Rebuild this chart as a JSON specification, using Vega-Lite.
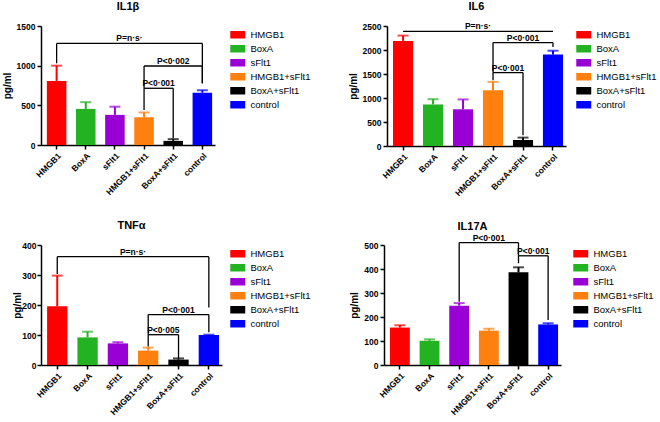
{
  "$schema": "https://vega.github.io/schema/vega-lite/v6.json",
  "padding": {"left": 2, "top": 1, "right": 0, "bottom": 0},
  "datasets": {
    "bars": [
      {"panel": "IL1β", "group": "HMGB1", "mean": 808, "err": 1000},
      {"panel": "IL1β", "group": "BoxA", "mean": 455, "err": 540},
      {"panel": "IL1β", "group": "sFlt1", "mean": 380, "err": 483},
      {"panel": "IL1β", "group": "HMGB1+sFlt1", "mean": 349, "err": 410},
      {"panel": "IL1β", "group": "BoxA+sFlt1", "mean": 52, "err": 74},
      {"panel": "IL1β", "group": "control", "mean": 660, "err": 690},
      {"panel": "IL6", "group": "HMGB1", "mean": 2190, "err": 2300},
      {"panel": "IL6", "group": "BoxA", "mean": 865, "err": 975},
      {"panel": "IL6", "group": "sFlt1", "mean": 765, "err": 970},
      {"panel": "IL6", "group": "HMGB1+sFlt1", "mean": 1160, "err": 1335},
      {"panel": "IL6", "group": "BoxA+sFlt1", "mean": 125, "err": 175},
      {"panel": "IL6", "group": "control", "mean": 1905, "err": 1985},
      {"panel": "TNFα", "group": "HMGB1", "mean": 196, "err": 298},
      {"panel": "TNFα", "group": "BoxA", "mean": 92, "err": 111},
      {"panel": "TNFα", "group": "sFlt1", "mean": 72, "err": 76},
      {"panel": "TNFα", "group": "HMGB1+sFlt1", "mean": 48, "err": 58},
      {"panel": "TNFα", "group": "BoxA+sFlt1", "mean": 18, "err": 22},
      {"panel": "TNFα", "group": "control", "mean": 100, "err": 101},
      {"panel": "IL17A", "group": "HMGB1", "mean": 156, "err": 166},
      {"panel": "IL17A", "group": "BoxA", "mean": 101, "err": 107},
      {"panel": "IL17A", "group": "sFlt1", "mean": 247, "err": 258},
      {"panel": "IL17A", "group": "HMGB1+sFlt1", "mean": 143, "err": 151},
      {"panel": "IL17A", "group": "BoxA+sFlt1", "mean": 386, "err": 407},
      {"panel": "IL17A", "group": "control", "mean": 169, "err": 174}
    ],
    "brackets": [
      {"panel": "IL1β", "from": "HMGB1", "to": "control", "y": 1280, "yl": 1030, "yr": 778, "label": "P=n·s·", "mid": "sFlt1", "pos": "between"},
      {"panel": "IL1β", "from": "HMGB1+sFlt1", "to": "control", "y": 996, "yl": 715, "yr": 778, "label": "P<0·002", "mid": "BoxA+sFlt1", "pos": "center"},
      {"panel": "IL1β", "from": "HMGB1+sFlt1", "to": "BoxA+sFlt1", "y": 715, "yl": 441, "yr": 84, "label": "P<0·001", "mid": "HMGB1+sFlt1", "pos": "between"},
      {"panel": "IL6", "from": "HMGB1", "to": "control", "y": 2390, "yl": 2390, "yr": 2390, "label": "P=n·s·", "mid": "sFlt1", "pos": "between"},
      {"panel": "IL6", "from": "HMGB1+sFlt1", "to": "control", "y": 2154, "yl": 1529, "yr": 2062, "label": "P<0·001", "mid": "BoxA+sFlt1", "pos": "center"},
      {"panel": "IL6", "from": "HMGB1+sFlt1", "to": "BoxA+sFlt1", "y": 1529, "yl": 1369, "yr": 223, "label": "P<0·001", "mid": "HMGB1+sFlt1", "pos": "between"},
      {"panel": "TNFα", "from": "HMGB1", "to": "control", "y": 361, "yl": 303, "yr": 192, "label": "P=n·s·", "mid": "sFlt1", "pos": "between"},
      {"panel": "TNFα", "from": "HMGB1+sFlt1", "to": "control", "y": 168, "yl": 101, "yr": 109, "label": "P<0·001", "mid": "BoxA+sFlt1", "pos": "center"},
      {"panel": "TNFα", "from": "HMGB1+sFlt1", "to": "BoxA+sFlt1", "y": 101, "yl": 62, "yr": 23, "label": "P<0·005", "mid": "HMGB1+sFlt1", "pos": "between"},
      {"panel": "IL17A", "from": "sFlt1", "to": "BoxA+sFlt1", "y": 510, "yl": 264, "yr": 455, "label": "P<0·001", "mid": "HMGB1+sFlt1", "pos": "center"},
      {"panel": "IL17A", "from": "BoxA+sFlt1", "to": "control", "y": 455, "yl": 424, "yr": 188, "label": "P<0·001", "mid": "BoxA+sFlt1", "pos": "between"}
    ]
  },
  "vconcat": [
    {
      "hconcat": [
        {
          "title": {"text": "IL1β", "offset": 10},
          "width": 174, "height": 119,
          "layer": [
            {"data": {"name": "bars"}, "transform": [{"filter": "datum.panel === 'IL1β'"}], "mark": {"type": "bar"},
             "encoding": {
               "x": {"field": "group", "type": "nominal", "title": null, "scale": {"domain": ["HMGB1","BoxA","sFlt1","HMGB1+sFlt1","BoxA+sFlt1","control"], "paddingInner": 0.33, "paddingOuter": 0.15, "align": 0.67}},
               "y": {"field": "mean", "type": "quantitative", "title": "pg/ml", "scale": {"domain": [0, 1500], "nice": false}, "axis": {"values": [0, 500, 1000, 1500]}},
               "color": {"field": "group", "type": "nominal", "scale": {"domain": ["HMGB1","BoxA","sFlt1","HMGB1+sFlt1","BoxA+sFlt1","control"], "range": ["#FF0000","#22B222","#9900D6","#FF7F0F","#000000","#0000FF"]}, "legend": {"offset": 14}}
             }},
            {"data": {"name": "bars"}, "transform": [{"filter": "datum.panel === 'IL1β'"}], "mark": {"type": "rule", "strokeWidth": 2},
             "encoding": {
               "x": {"field": "group", "type": "nominal", "title": null, "scale": {"domain": ["HMGB1","BoxA","sFlt1","HMGB1+sFlt1","BoxA+sFlt1","control"], "paddingInner": 0.33, "paddingOuter": 0.15, "align": 0.67}},
               "y": {"field": "mean", "type": "quantitative", "title": "pg/ml", "scale": {"domain": [0, 1500], "nice": false}, "axis": {"values": [0, 500, 1000, 1500]}},
               "y2": {"field": "err"},
               "color": {"field": "group", "type": "nominal", "legend": null}
             }},
            {"data": {"name": "bars"}, "transform": [{"filter": "datum.panel === 'IL1β'"}], "mark": {"type": "tick", "thickness": 2, "size": 11},
             "encoding": {
               "x": {"field": "group", "type": "nominal", "title": null, "scale": {"domain": ["HMGB1","BoxA","sFlt1","HMGB1+sFlt1","BoxA+sFlt1","control"], "paddingInner": 0.33, "paddingOuter": 0.15, "align": 0.67}},
               "y": {"field": "err", "type": "quantitative", "title": "pg/ml", "scale": {"domain": [0, 1500], "nice": false}, "axis": {"values": [0, 500, 1000, 1500]}},
               "color": {"field": "group", "type": "nominal", "legend": null}
             }},
            {"data": {"name": "brackets"}, "transform": [{"filter": "datum.panel === 'IL1β'"}], "mark": {"type": "rule", "color": "black", "strokeWidth": 1.3},
             "encoding": {
               "x": {"field": "from", "type": "nominal", "title": null, "scale": {"domain": ["HMGB1","BoxA","sFlt1","HMGB1+sFlt1","BoxA+sFlt1","control"], "paddingInner": 0.33, "paddingOuter": 0.15, "align": 0.67}},
               "x2": {"field": "to"},
               "y": {"field": "y", "type": "quantitative", "title": "pg/ml", "scale": {"domain": [0, 1500], "nice": false}, "axis": {"values": [0, 500, 1000, 1500]}}
             }},
            {"data": {"name": "brackets"}, "transform": [{"filter": "datum.panel === 'IL1β'"}], "mark": {"type": "rule", "color": "black", "strokeWidth": 1.3},
             "encoding": {
               "x": {"field": "from", "type": "nominal", "title": null, "scale": {"domain": ["HMGB1","BoxA","sFlt1","HMGB1+sFlt1","BoxA+sFlt1","control"], "paddingInner": 0.33, "paddingOuter": 0.15, "align": 0.67}},
               "y": {"field": "yl", "type": "quantitative", "title": "pg/ml", "scale": {"domain": [0, 1500], "nice": false}, "axis": {"values": [0, 500, 1000, 1500]}},
               "y2": {"field": "y"}
             }},
            {"data": {"name": "brackets"}, "transform": [{"filter": "datum.panel === 'IL1β'"}], "mark": {"type": "rule", "color": "black", "strokeWidth": 1.3},
             "encoding": {
               "x": {"field": "to", "type": "nominal", "title": null, "scale": {"domain": ["HMGB1","BoxA","sFlt1","HMGB1+sFlt1","BoxA+sFlt1","control"], "paddingInner": 0.33, "paddingOuter": 0.15, "align": 0.67}},
               "y": {"field": "yr", "type": "quantitative", "title": "pg/ml", "scale": {"domain": [0, 1500], "nice": false}, "axis": {"values": [0, 500, 1000, 1500]}},
               "y2": {"field": "y"}
             }},
            {"data": {"name": "brackets"}, "transform": [{"filter": "datum.panel === 'IL1β' && datum.pos === 'between'"}], "mark": {"type": "text", "fontWeight": "bold", "fontSize": 8.5, "baseline": "alphabetic", "dy": -2, "color": "black"},
             "encoding": {
               "x": {"field": "mid", "type": "nominal", "title": null, "bandPosition": 1.246, "scale": {"domain": ["HMGB1","BoxA","sFlt1","HMGB1+sFlt1","BoxA+sFlt1","control"], "paddingInner": 0.33, "paddingOuter": 0.15, "align": 0.67}},
               "y": {"field": "y", "type": "quantitative", "title": "pg/ml", "scale": {"domain": [0, 1500], "nice": false}, "axis": {"values": [0, 500, 1000, 1500]}},
               "text": {"field": "label"}
             }},
            {"data": {"name": "brackets"}, "transform": [{"filter": "datum.panel === 'IL1β' && datum.pos === 'center'"}], "mark": {"type": "text", "fontWeight": "bold", "fontSize": 8.5, "baseline": "alphabetic", "dy": -2, "color": "black"},
             "encoding": {
               "x": {"field": "mid", "type": "nominal", "title": null, "scale": {"domain": ["HMGB1","BoxA","sFlt1","HMGB1+sFlt1","BoxA+sFlt1","control"], "paddingInner": 0.33, "paddingOuter": 0.15, "align": 0.67}},
               "y": {"field": "y", "type": "quantitative", "title": "pg/ml", "scale": {"domain": [0, 1500], "nice": false}, "axis": {"values": [0, 500, 1000, 1500]}},
               "text": {"field": "label"}
             }}
          ]
        },
        {
          "title": {"text": "IL6", "offset": 10},
          "width": 179, "height": 120,
          "layer": [
            {"data": {"name": "bars"}, "transform": [{"filter": "datum.panel === 'IL6'"}], "mark": {"type": "bar"},
             "encoding": {
               "x": {"field": "group", "type": "nominal", "title": null, "scale": {"domain": ["HMGB1","BoxA","sFlt1","HMGB1+sFlt1","BoxA+sFlt1","control"], "paddingInner": 0.33, "paddingOuter": 0.15, "align": 0.67}},
               "y": {"field": "mean", "type": "quantitative", "title": "pg/ml", "scale": {"domain": [0, 2500], "nice": false}, "axis": {"values": [0, 500, 1000, 1500, 2000, 2500]}},
               "color": {"field": "group", "type": "nominal", "scale": {"domain": ["HMGB1","BoxA","sFlt1","HMGB1+sFlt1","BoxA+sFlt1","control"], "range": ["#FF0000","#22B222","#9900D6","#FF7F0F","#000000","#0000FF"]}, "legend": {"offset": 9}}
             }},
            {"data": {"name": "bars"}, "transform": [{"filter": "datum.panel === 'IL6'"}], "mark": {"type": "rule", "strokeWidth": 2},
             "encoding": {
               "x": {"field": "group", "type": "nominal", "title": null, "scale": {"domain": ["HMGB1","BoxA","sFlt1","HMGB1+sFlt1","BoxA+sFlt1","control"], "paddingInner": 0.33, "paddingOuter": 0.15, "align": 0.67}},
               "y": {"field": "mean", "type": "quantitative", "title": "pg/ml", "scale": {"domain": [0, 2500], "nice": false}, "axis": {"values": [0, 500, 1000, 1500, 2000, 2500]}},
               "y2": {"field": "err"},
               "color": {"field": "group", "type": "nominal", "legend": null}
             }},
            {"data": {"name": "bars"}, "transform": [{"filter": "datum.panel === 'IL6'"}], "mark": {"type": "tick", "thickness": 2, "size": 11},
             "encoding": {
               "x": {"field": "group", "type": "nominal", "title": null, "scale": {"domain": ["HMGB1","BoxA","sFlt1","HMGB1+sFlt1","BoxA+sFlt1","control"], "paddingInner": 0.33, "paddingOuter": 0.15, "align": 0.67}},
               "y": {"field": "err", "type": "quantitative", "title": "pg/ml", "scale": {"domain": [0, 2500], "nice": false}, "axis": {"values": [0, 500, 1000, 1500, 2000, 2500]}},
               "color": {"field": "group", "type": "nominal", "legend": null}
             }},
            {"data": {"name": "brackets"}, "transform": [{"filter": "datum.panel === 'IL6'"}], "mark": {"type": "rule", "color": "black", "strokeWidth": 1.3},
             "encoding": {
               "x": {"field": "from", "type": "nominal", "title": null, "scale": {"domain": ["HMGB1","BoxA","sFlt1","HMGB1+sFlt1","BoxA+sFlt1","control"], "paddingInner": 0.33, "paddingOuter": 0.15, "align": 0.67}},
               "x2": {"field": "to"},
               "y": {"field": "y", "type": "quantitative", "title": "pg/ml", "scale": {"domain": [0, 2500], "nice": false}, "axis": {"values": [0, 500, 1000, 1500, 2000, 2500]}}
             }},
            {"data": {"name": "brackets"}, "transform": [{"filter": "datum.panel === 'IL6'"}], "mark": {"type": "rule", "color": "black", "strokeWidth": 1.3},
             "encoding": {
               "x": {"field": "from", "type": "nominal", "title": null, "scale": {"domain": ["HMGB1","BoxA","sFlt1","HMGB1+sFlt1","BoxA+sFlt1","control"], "paddingInner": 0.33, "paddingOuter": 0.15, "align": 0.67}},
               "y": {"field": "yl", "type": "quantitative", "title": "pg/ml", "scale": {"domain": [0, 2500], "nice": false}, "axis": {"values": [0, 500, 1000, 1500, 2000, 2500]}},
               "y2": {"field": "y"}
             }},
            {"data": {"name": "brackets"}, "transform": [{"filter": "datum.panel === 'IL6'"}], "mark": {"type": "rule", "color": "black", "strokeWidth": 1.3},
             "encoding": {
               "x": {"field": "to", "type": "nominal", "title": null, "scale": {"domain": ["HMGB1","BoxA","sFlt1","HMGB1+sFlt1","BoxA+sFlt1","control"], "paddingInner": 0.33, "paddingOuter": 0.15, "align": 0.67}},
               "y": {"field": "yr", "type": "quantitative", "title": "pg/ml", "scale": {"domain": [0, 2500], "nice": false}, "axis": {"values": [0, 500, 1000, 1500, 2000, 2500]}},
               "y2": {"field": "y"}
             }},
            {"data": {"name": "brackets"}, "transform": [{"filter": "datum.panel === 'IL6' && datum.pos === 'between'"}], "mark": {"type": "text", "fontWeight": "bold", "fontSize": 8.5, "baseline": "alphabetic", "dy": -2, "color": "black"},
             "encoding": {
               "x": {"field": "mid", "type": "nominal", "title": null, "bandPosition": 1.246, "scale": {"domain": ["HMGB1","BoxA","sFlt1","HMGB1+sFlt1","BoxA+sFlt1","control"], "paddingInner": 0.33, "paddingOuter": 0.15, "align": 0.67}},
               "y": {"field": "y", "type": "quantitative", "title": "pg/ml", "scale": {"domain": [0, 2500], "nice": false}, "axis": {"values": [0, 500, 1000, 1500, 2000, 2500]}},
               "text": {"field": "label"}
             }},
            {"data": {"name": "brackets"}, "transform": [{"filter": "datum.panel === 'IL6' && datum.pos === 'center'"}], "mark": {"type": "text", "fontWeight": "bold", "fontSize": 8.5, "baseline": "alphabetic", "dy": -2, "color": "black"},
             "encoding": {
               "x": {"field": "mid", "type": "nominal", "title": null, "scale": {"domain": ["HMGB1","BoxA","sFlt1","HMGB1+sFlt1","BoxA+sFlt1","control"], "paddingInner": 0.33, "paddingOuter": 0.15, "align": 0.67}},
               "y": {"field": "y", "type": "quantitative", "title": "pg/ml", "scale": {"domain": [0, 2500], "nice": false}, "axis": {"values": [0, 500, 1000, 1500, 2000, 2500]}},
               "text": {"field": "label"}
             }}
          ]
        }
      ],
      "spacing": 33,
      "resolve": {"scale": {"color": "independent"}}
    },
    {
      "hconcat": [
        {
          "title": {"text": "TNFα", "offset": 10},
          "width": 181, "height": 120,
          "layer": [
            {"data": {"name": "bars"}, "transform": [{"filter": "datum.panel === 'TNFα'"}], "mark": {"type": "bar"},
             "encoding": {
               "x": {"field": "group", "type": "nominal", "title": null, "scale": {"domain": ["HMGB1","BoxA","sFlt1","HMGB1+sFlt1","BoxA+sFlt1","control"], "paddingInner": 0.33, "paddingOuter": 0.15, "align": 0.67}},
               "y": {"field": "mean", "type": "quantitative", "title": "pg/ml", "scale": {"domain": [0, 400], "nice": false}, "axis": {"values": [0, 100, 200, 300, 400], "titlePadding": -1, "labelPadding": 1}},
               "color": {"field": "group", "type": "nominal", "scale": {"domain": ["HMGB1","BoxA","sFlt1","HMGB1+sFlt1","BoxA+sFlt1","control"], "range": ["#FF0000","#22B222","#9900D6","#FF7F0F","#000000","#0000FF"]}, "legend": {"offset": 7}}
             }},
            {"data": {"name": "bars"}, "transform": [{"filter": "datum.panel === 'TNFα'"}], "mark": {"type": "rule", "strokeWidth": 2},
             "encoding": {
               "x": {"field": "group", "type": "nominal", "title": null, "scale": {"domain": ["HMGB1","BoxA","sFlt1","HMGB1+sFlt1","BoxA+sFlt1","control"], "paddingInner": 0.33, "paddingOuter": 0.15, "align": 0.67}},
               "y": {"field": "mean", "type": "quantitative", "title": "pg/ml", "scale": {"domain": [0, 400], "nice": false}, "axis": {"values": [0, 100, 200, 300, 400], "titlePadding": -1, "labelPadding": 1}},
               "y2": {"field": "err"},
               "color": {"field": "group", "type": "nominal", "legend": null}
             }},
            {"data": {"name": "bars"}, "transform": [{"filter": "datum.panel === 'TNFα'"}], "mark": {"type": "tick", "thickness": 2, "size": 11},
             "encoding": {
               "x": {"field": "group", "type": "nominal", "title": null, "scale": {"domain": ["HMGB1","BoxA","sFlt1","HMGB1+sFlt1","BoxA+sFlt1","control"], "paddingInner": 0.33, "paddingOuter": 0.15, "align": 0.67}},
               "y": {"field": "err", "type": "quantitative", "title": "pg/ml", "scale": {"domain": [0, 400], "nice": false}, "axis": {"values": [0, 100, 200, 300, 400], "titlePadding": -1, "labelPadding": 1}},
               "color": {"field": "group", "type": "nominal", "legend": null}
             }},
            {"data": {"name": "brackets"}, "transform": [{"filter": "datum.panel === 'TNFα'"}], "mark": {"type": "rule", "color": "black", "strokeWidth": 1.3},
             "encoding": {
               "x": {"field": "from", "type": "nominal", "title": null, "scale": {"domain": ["HMGB1","BoxA","sFlt1","HMGB1+sFlt1","BoxA+sFlt1","control"], "paddingInner": 0.33, "paddingOuter": 0.15, "align": 0.67}},
               "x2": {"field": "to"},
               "y": {"field": "y", "type": "quantitative", "title": "pg/ml", "scale": {"domain": [0, 400], "nice": false}, "axis": {"values": [0, 100, 200, 300, 400], "titlePadding": -1, "labelPadding": 1}}
             }},
            {"data": {"name": "brackets"}, "transform": [{"filter": "datum.panel === 'TNFα'"}], "mark": {"type": "rule", "color": "black", "strokeWidth": 1.3},
             "encoding": {
               "x": {"field": "from", "type": "nominal", "title": null, "scale": {"domain": ["HMGB1","BoxA","sFlt1","HMGB1+sFlt1","BoxA+sFlt1","control"], "paddingInner": 0.33, "paddingOuter": 0.15, "align": 0.67}},
               "y": {"field": "yl", "type": "quantitative", "title": "pg/ml", "scale": {"domain": [0, 400], "nice": false}, "axis": {"values": [0, 100, 200, 300, 400], "titlePadding": -1, "labelPadding": 1}},
               "y2": {"field": "y"}
             }},
            {"data": {"name": "brackets"}, "transform": [{"filter": "datum.panel === 'TNFα'"}], "mark": {"type": "rule", "color": "black", "strokeWidth": 1.3},
             "encoding": {
               "x": {"field": "to", "type": "nominal", "title": null, "scale": {"domain": ["HMGB1","BoxA","sFlt1","HMGB1+sFlt1","BoxA+sFlt1","control"], "paddingInner": 0.33, "paddingOuter": 0.15, "align": 0.67}},
               "y": {"field": "yr", "type": "quantitative", "title": "pg/ml", "scale": {"domain": [0, 400], "nice": false}, "axis": {"values": [0, 100, 200, 300, 400], "titlePadding": -1, "labelPadding": 1}},
               "y2": {"field": "y"}
             }},
            {"data": {"name": "brackets"}, "transform": [{"filter": "datum.panel === 'TNFα' && datum.pos === 'between'"}], "mark": {"type": "text", "fontWeight": "bold", "fontSize": 8.5, "baseline": "alphabetic", "dy": -2, "color": "black"},
             "encoding": {
               "x": {"field": "mid", "type": "nominal", "title": null, "bandPosition": 1.246, "scale": {"domain": ["HMGB1","BoxA","sFlt1","HMGB1+sFlt1","BoxA+sFlt1","control"], "paddingInner": 0.33, "paddingOuter": 0.15, "align": 0.67}},
               "y": {"field": "y", "type": "quantitative", "title": "pg/ml", "scale": {"domain": [0, 400], "nice": false}, "axis": {"values": [0, 100, 200, 300, 400], "titlePadding": -1, "labelPadding": 1}},
               "text": {"field": "label"}
             }},
            {"data": {"name": "brackets"}, "transform": [{"filter": "datum.panel === 'TNFα' && datum.pos === 'center'"}], "mark": {"type": "text", "fontWeight": "bold", "fontSize": 8.5, "baseline": "alphabetic", "dy": -2, "color": "black"},
             "encoding": {
               "x": {"field": "mid", "type": "nominal", "title": null, "scale": {"domain": ["HMGB1","BoxA","sFlt1","HMGB1+sFlt1","BoxA+sFlt1","control"], "paddingInner": 0.33, "paddingOuter": 0.15, "align": 0.67}},
               "y": {"field": "y", "type": "quantitative", "title": "pg/ml", "scale": {"domain": [0, 400], "nice": false}, "axis": {"values": [0, 100, 200, 300, 400], "titlePadding": -1, "labelPadding": 1}},
               "text": {"field": "label"}
             }}
          ]
        },
        {
          "title": {"text": "IL17A", "offset": 2},
          "width": 177, "height": 120,
          "layer": [
            {"data": {"name": "bars"}, "transform": [{"filter": "datum.panel === 'IL17A'"}], "mark": {"type": "bar"},
             "encoding": {
               "x": {"field": "group", "type": "nominal", "title": null, "scale": {"domain": ["HMGB1","BoxA","sFlt1","HMGB1+sFlt1","BoxA+sFlt1","control"], "paddingInner": 0.33, "paddingOuter": 0.15, "align": 0.67}},
               "y": {"field": "mean", "type": "quantitative", "title": "pg/ml", "scale": {"domain": [0, 500], "nice": false}, "axis": {"values": [0, 100, 200, 300, 400, 500]}},
               "color": {"field": "group", "type": "nominal", "scale": {"domain": ["HMGB1","BoxA","sFlt1","HMGB1+sFlt1","BoxA+sFlt1","control"], "range": ["#FF0000","#22B222","#9900D6","#FF7F0F","#000000","#0000FF"]}, "legend": {"offset": 11}}
             }},
            {"data": {"name": "bars"}, "transform": [{"filter": "datum.panel === 'IL17A'"}], "mark": {"type": "rule", "strokeWidth": 2},
             "encoding": {
               "x": {"field": "group", "type": "nominal", "title": null, "scale": {"domain": ["HMGB1","BoxA","sFlt1","HMGB1+sFlt1","BoxA+sFlt1","control"], "paddingInner": 0.33, "paddingOuter": 0.15, "align": 0.67}},
               "y": {"field": "mean", "type": "quantitative", "title": "pg/ml", "scale": {"domain": [0, 500], "nice": false}, "axis": {"values": [0, 100, 200, 300, 400, 500]}},
               "y2": {"field": "err"},
               "color": {"field": "group", "type": "nominal", "legend": null}
             }},
            {"data": {"name": "bars"}, "transform": [{"filter": "datum.panel === 'IL17A'"}], "mark": {"type": "tick", "thickness": 2, "size": 11},
             "encoding": {
               "x": {"field": "group", "type": "nominal", "title": null, "scale": {"domain": ["HMGB1","BoxA","sFlt1","HMGB1+sFlt1","BoxA+sFlt1","control"], "paddingInner": 0.33, "paddingOuter": 0.15, "align": 0.67}},
               "y": {"field": "err", "type": "quantitative", "title": "pg/ml", "scale": {"domain": [0, 500], "nice": false}, "axis": {"values": [0, 100, 200, 300, 400, 500]}},
               "color": {"field": "group", "type": "nominal", "legend": null}
             }},
            {"data": {"name": "brackets"}, "transform": [{"filter": "datum.panel === 'IL17A'"}], "mark": {"type": "rule", "color": "black", "strokeWidth": 1.3},
             "encoding": {
               "x": {"field": "from", "type": "nominal", "title": null, "scale": {"domain": ["HMGB1","BoxA","sFlt1","HMGB1+sFlt1","BoxA+sFlt1","control"], "paddingInner": 0.33, "paddingOuter": 0.15, "align": 0.67}},
               "x2": {"field": "to"},
               "y": {"field": "y", "type": "quantitative", "title": "pg/ml", "scale": {"domain": [0, 500], "nice": false}, "axis": {"values": [0, 100, 200, 300, 400, 500]}}
             }},
            {"data": {"name": "brackets"}, "transform": [{"filter": "datum.panel === 'IL17A'"}], "mark": {"type": "rule", "color": "black", "strokeWidth": 1.3},
             "encoding": {
               "x": {"field": "from", "type": "nominal", "title": null, "scale": {"domain": ["HMGB1","BoxA","sFlt1","HMGB1+sFlt1","BoxA+sFlt1","control"], "paddingInner": 0.33, "paddingOuter": 0.15, "align": 0.67}},
               "y": {"field": "yl", "type": "quantitative", "title": "pg/ml", "scale": {"domain": [0, 500], "nice": false}, "axis": {"values": [0, 100, 200, 300, 400, 500]}},
               "y2": {"field": "y"}
             }},
            {"data": {"name": "brackets"}, "transform": [{"filter": "datum.panel === 'IL17A'"}], "mark": {"type": "rule", "color": "black", "strokeWidth": 1.3},
             "encoding": {
               "x": {"field": "to", "type": "nominal", "title": null, "scale": {"domain": ["HMGB1","BoxA","sFlt1","HMGB1+sFlt1","BoxA+sFlt1","control"], "paddingInner": 0.33, "paddingOuter": 0.15, "align": 0.67}},
               "y": {"field": "yr", "type": "quantitative", "title": "pg/ml", "scale": {"domain": [0, 500], "nice": false}, "axis": {"values": [0, 100, 200, 300, 400, 500]}},
               "y2": {"field": "y"}
             }},
            {"data": {"name": "brackets"}, "transform": [{"filter": "datum.panel === 'IL17A' && datum.pos === 'between'"}], "mark": {"type": "text", "fontWeight": "bold", "fontSize": 8.5, "baseline": "alphabetic", "dy": -2, "color": "black"},
             "encoding": {
               "x": {"field": "mid", "type": "nominal", "title": null, "bandPosition": 1.246, "scale": {"domain": ["HMGB1","BoxA","sFlt1","HMGB1+sFlt1","BoxA+sFlt1","control"], "paddingInner": 0.33, "paddingOuter": 0.15, "align": 0.67}},
               "y": {"field": "y", "type": "quantitative", "title": "pg/ml", "scale": {"domain": [0, 500], "nice": false}, "axis": {"values": [0, 100, 200, 300, 400, 500]}},
               "text": {"field": "label"}
             }},
            {"data": {"name": "brackets"}, "transform": [{"filter": "datum.panel === 'IL17A' && datum.pos === 'center'"}], "mark": {"type": "text", "fontWeight": "bold", "fontSize": 8.5, "baseline": "alphabetic", "dy": -2, "color": "black"},
             "encoding": {
               "x": {"field": "mid", "type": "nominal", "title": null, "scale": {"domain": ["HMGB1","BoxA","sFlt1","HMGB1+sFlt1","BoxA+sFlt1","control"], "paddingInner": 0.33, "paddingOuter": 0.15, "align": 0.67}},
               "y": {"field": "y", "type": "quantitative", "title": "pg/ml", "scale": {"domain": [0, 500], "nice": false}, "axis": {"values": [0, 100, 200, 300, 400, 500]}},
               "text": {"field": "label"}
             }}
          ]
        }
      ],
      "spacing": 34,
      "resolve": {"scale": {"color": "independent"}}
    }
  ],
  "spacing": 22,
  "resolve": {"scale": {"color": "independent"}},
  "config": {
    "font": "Liberation Sans",
    "view": {"stroke": null},
    "axis": {"domainColor": "black", "domainWidth": 1.5, "tickColor": "black", "tickWidth": 1.5, "tickSize": 4, "labelColor": "black", "labelFont": "Liberation Sans", "labelFontWeight": "bold", "labelFontSize": 8.5, "labelPadding": 2, "labelOverlap": false, "grid": false, "titleFont": "Liberation Sans", "titleFontWeight": "bold", "titleFontSize": 10, "titleColor": "black", "titlePadding": 4},
    "axisY": {"format": "d"},
    "axisX": {"labelAngle": -45},
    "title": {"font": "Liberation Sans", "fontSize": 11, "fontWeight": "bold", "color": "black", "frame": "group", "anchor": "middle"},
    "legend": {"title": null, "symbolType": "M-2,-1H2V1H-2Z", "symbolSize": 56, "symbolStrokeWidth": 0, "symbolOpacity": 1, "labelFont": "Liberation Sans", "labelFontSize": 9.5, "labelColor": "black", "labelOffset": 8, "rowPadding": 3, "padding": 4}
  }
}
